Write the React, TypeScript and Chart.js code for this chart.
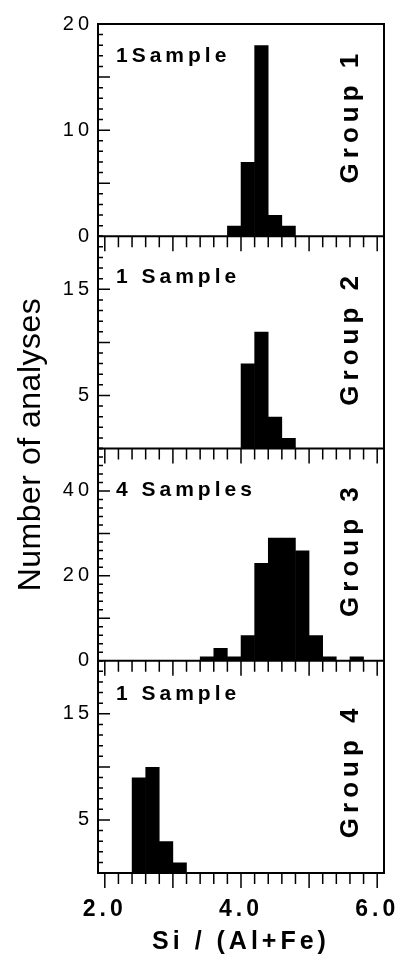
import React, { useEffect, useRef } from 'react';
import { Chart, registerables } from 'chart.js';

Chart.register(...registerables);

// ---- data (bin centres and counts) ----
const group1X = [3.9, 4.1, 4.3, 4.5, 4.7];
const group1Counts = [1, 7, 18, 2, 1];
const group2X = [4.1, 4.3, 4.5, 4.7];
const group2Counts = [8, 11, 3, 1];
const group3X = [3.5, 3.7, 3.9, 4.1, 4.3, 4.5, 4.7, 4.9, 5.1, 5.3, 5.5, 5.7];
const group3Counts = [1, 3, 1, 6, 23, 29, 29, 26, 6, 1, 0, 1];
const group4X = [2.5, 2.7, 2.9, 3.1];
const group4Counts = [9, 10, 3, 1];

const groupNames = ['Group 1', 'Group 2', 'Group 3', 'Group 4'];
const sampleLabels = ['1Sample', '1 Sample', '4 Samples', '1 Sample'];
const yMaxes = [20, 20, 50, 20];
const ySteps = [1, 1, 2, 1];
const yMajors = [5, 5, 10, 5];
const yLabelValues = [[0, 10, 20], [5, 15], [0, 20, 40], [5, 15]];
const xLabelValues = [2, 4, 6];
const xTitle = 'Si / (Al+Fe)';
const yTitle = 'Number of analyses';

const FONT = '"Liberation Sans", Arial, Helvetica, sans-serif';
const panelIds = ['y1', 'y2', 'y3', 'y4'];
const sampleDy = [32, 41, 42, 33];
const groupDy = [-14, -4, -5, 4];

const decorPlugin = {
  id: 'decor',
  beforeDraw(chart: any) {
    chart.ctx.letterSpacing = '4px';
  },
  afterDraw(chart: any) {
    const ctx = chart.ctx as CanvasRenderingContext2D;
    const area = chart.chartArea;
    const xs = chart.scales.x;
    (ctx as any).letterSpacing = '0px';
    ctx.save();
    ctx.strokeStyle = '#000';
    ctx.fillStyle = '#000';
    ctx.lineWidth = 2;
    ctx.beginPath();
    ctx.moveTo(area.left, area.top);
    ctx.lineTo(area.right, area.top);
    ctx.lineTo(area.right, area.bottom);
    ctx.stroke();

    panelIds.forEach((id, p) => {
      const ys = chart.scales[id];
      ctx.lineWidth = 2;
      ctx.beginPath();
      ctx.moveTo(area.left, ys.bottom);
      ctx.lineTo(area.right, ys.bottom);
      ctx.stroke();

      ctx.lineWidth = 1.5;
      ctx.beginPath();
      xs.ticks.forEach((t: any) => {
        const px = xs.getPixelForValue(t.value);
        const major = Math.abs(t.value - Math.round(t.value)) < 1e-6;
        ctx.moveTo(px, ys.bottom);
        ctx.lineTo(px, ys.bottom + (major ? 15 : 11));
      });
      ys.ticks.forEach((t: any) => {
        const py = ys.getPixelForValue(t.value);
        const major = t.value % yMajors[p] === 0 && t.value > 0 && t.value < yMaxes[p];
        ctx.moveTo(area.left, py);
        ctx.lineTo(area.left + (major ? 12 : 5), py);
      });
      ctx.stroke();

      // sample count label
      (ctx as any).letterSpacing = '4px';
      ctx.font = `bold 21px ${FONT}`;
      ctx.textAlign = 'left';
      ctx.textBaseline = 'middle';
      ctx.fillText(sampleLabels[p], area.left + 18, ys.top + sampleDy[p]);

      // group label (rotated)
      ctx.save();
      (ctx as any).letterSpacing = '5px';
      ctx.font = `bold 26px ${FONT}`;
      ctx.translate(area.right - 33, (ys.top + ys.bottom) / 2 + groupDy[p]);
      ctx.rotate(-Math.PI / 2);
      ctx.textAlign = 'center';
      ctx.textBaseline = 'middle';
      ctx.fillText(groupNames[p], 0, 0);
      ctx.restore();
    });

    // y axis title
    ctx.save();
    (ctx as any).letterSpacing = '0.5px';
    ctx.font = `32px ${FONT}`;
    ctx.translate(31, (area.top + area.bottom) / 2 - 4);
    ctx.rotate(-Math.PI / 2);
    ctx.textAlign = 'center';
    ctx.textBaseline = 'middle';
    ctx.fillText(yTitle, 0, 0);
    ctx.restore();

    ctx.restore();
    (ctx as any).letterSpacing = '0px';
  },
};

function makeYScale(p: number) {
  return {
    type: 'linear',
    position: 'left',
    stack: 'panels',
    stackWeight: 1,
    weight: 4 - p,
    min: 0,
    max: yMaxes[p],
    afterFit: (s: any) => {
      s.width = 98;
    },
    grid: { display: false, drawTicks: false, tickLength: 0 },
    border: { display: true, color: '#000', width: 2 },
    ticks: {
      stepSize: ySteps[p],
      autoSkip: false,
      padding: 5,
      color: '#000',
      font: { family: FONT, size: 20 },
      callback: (v: number) => (yLabelValues[p].includes(v) ? String(v) : ''),
    },
  };
}

function bars(xs: number[], counts: number[], axis: string) {
  return {
    type: 'bar',
    data: xs.map((x, i) => ({ x, y: counts[i] })),
    yAxisID: axis,
    xAxisID: 'x',
    backgroundColor: '#000',
    borderWidth: 0,
    barPercentage: 1.04,
    categoryPercentage: 1,
    grouped: false,
  };
}

export default function App() {
  const ref = useRef<HTMLCanvasElement>(null);
  useEffect(() => {
    const canvas = ref.current;
    if (!canvas) return;
    const chart = new Chart(canvas, {
      type: 'bar',
      data: {
        datasets: [
          bars(group1X, group1Counts, 'y1'),
          bars(group2X, group2Counts, 'y2'),
          bars(group3X, group3Counts, 'y3'),
          bars(group4X, group4Counts, 'y4'),
        ] as any,
      },
      options: {
        responsive: false,
        animation: false,
        devicePixelRatio: 1,
        layout: { autoPadding: false, padding: { top: 24, right: 24, left: 0, bottom: 0 } },
        plugins: { legend: { display: false }, tooltip: { enabled: false }, title: { display: false } },
        scales: {
          x: {
            type: 'linear',
            position: 'bottom',
            min: 2,
            max: 6,
            afterFit: (s: any) => {
              s.height = 88;
            },
            grid: {
              display: true,
              drawOnChartArea: false,
              drawTicks: true,
              tickLength: 20,
              tickColor: 'rgba(0,0,0,0)',
              color: 'rgba(0,0,0,0)',
            },
            border: { display: true, color: '#000', width: 2 },
            ticks: {
              stepSize: 0.2,
              autoSkip: false,
              maxRotation: 0,
              padding: 3,
              color: '#000',
              font: { family: FONT, size: 23, weight: 'bold' },
              callback: (v: number) => {
                const r = Math.round(v);
                return Math.abs(v - r) < 1e-6 && xLabelValues.includes(r) ? r.toFixed(1) : '';
              },
            },
            title: {
              display: true,
              text: xTitle,
              color: '#000',
              font: { family: FONT, size: 25, weight: 'bold' },
              padding: { top: 0, bottom: 4 },
            },
          },
          y1: makeYScale(0),
          y2: makeYScale(1),
          y3: makeYScale(2),
          y4: makeYScale(3),
        } as any,
      },
      plugins: [decorPlugin],
    } as any);
    return () => chart.destroy();
  }, []);
  return (
    <div style={{ position: 'absolute', left: 0, top: 0, width: 408, height: 961, background: '#fff' }}>
      <canvas ref={ref} width={408} height={961} style={{ display: 'block', width: 408, height: 961 }} />
    </div>
  );
}
